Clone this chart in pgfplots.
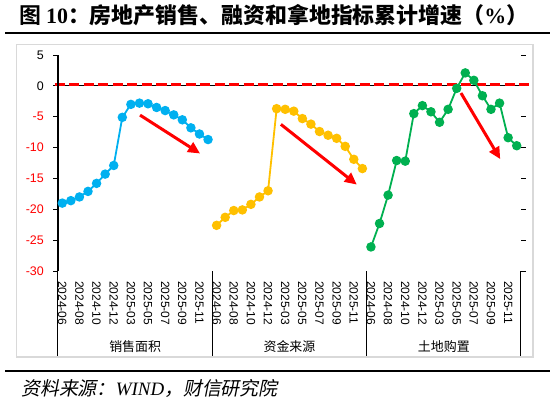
\documentclass[border=0pt]{standalone}
\usepackage{pgfplots}
\pgfplotsset{compat=1.18}
\usetikzlibrary{arrows.meta}
\usepackage{fontspec}
\setmainfont{Liberation Sans}
\newfontfamily\cjk{Noto Sans CJK SC}
\newfontfamily\cjkb{Noto Sans CJK SC Bold}
\newfontfamily\cjkit[FakeSlant=0.2]{Noto Sans CJK SC}
\newfontfamily\serifb{Liberation Serif}
\definecolor{cblue}{HTML}{00B0F0}
\definecolor{cyellow}{HTML}{FFC000}
\definecolor{cgreen}{HTML}{00B050}
\begin{document}
\begin{tikzpicture}
\path[use as bounding box] (0,0) rectangle (550bp,-404bp);
\begin{scope}[x=1bp,y=-1bp]
\draw[black!15, line width=1.5] (16.7,44.7) rectangle (533,357);
\node[anchor=base west, inner sep=0pt] at (19,23.4) {\cjkb\fontsize{22}{24}\selectfont 图 \serifb\bfseries 10\cjkb：房地产销售、融资和拿地指标累计增速（\serifb\bfseries \%\cjkb）};
\draw[black, line width=2] (5,32.8) -- (550,32.8);
\draw[black, line width=2.7] (5,371) -- (550,371);
\node[anchor=base west, inner sep=0pt] at (21,395) {\cjkit\fontsize{19}{21}\selectfont 资料来源：{\serifb\itshape WIND}，财信研究院};
\end{scope}
\begin{axis}[
  at={(58bp,-271bp)}, anchor=south west,
  scale only axis, width=463bp, height=216bp,
  xmin=-0.5, xmax=53.5, ymin=-30, ymax=5,
  axis line style={draw=none},
  clip=false,
  ytick={-30,-25,...,5},
  yticklabels={{\textcolor{red}{-30}},{\textcolor{red}{-25}},{\textcolor{red}{-20}},{\textcolor{red}{-15}},{\textcolor{red}{-10}},{\textcolor{red}{-5}},0,5},
  yticklabel style={font=\fontsize{12.5}{14}\selectfont, inner sep=0pt, xshift=-9bp},
  ytick style={black, line width=1bp},
  tick align=outside, major tick length=5bp,
  xtick={0,2,...,52},
  xticklabels={2024-06,2024-08,2024-10,2024-12,2025-03,2025-05,2025-07,2025-09,2025-11,2024-06,2024-08,2024-10,2024-12,2025-03,2025-05,2025-07,2025-09,2025-11,2024-06,2024-08,2024-10,2024-12,2025-03,2025-05,2025-07,2025-09,2025-11},
  xtick style={draw=none},
  xticklabel style={yshift=-5bp, rotate=-90, anchor=west, inner sep=0pt, font=\fontsize{12}{14}\selectfont},
  every axis plot/.append style={line width=1.8bp, mark=*, mark size=3.8bp},
]
\draw[black, line width=1bp] (axis cs:-0.5,0) -- (axis cs:53.5,0);
\draw[red, line width=3bp, dash pattern=on 10bp off 4.5bp] ([yshift=1.3bp]axis cs:-0.85,0) -- ([yshift=1.3bp]axis cs:54.8,0);
\draw[black, line width=1.3bp] (axis cs:-0.5,-30) -- (axis cs:-0.5,5);
\draw[black, line width=1bp] (axis cs:-0.5,-30) -- ([yshift=-85bp]axis cs:-0.5,-30);
\draw[black, line width=1bp] (axis cs:17.5,-30) -- ([yshift=-85bp]axis cs:17.5,-30);
\draw[black, line width=1bp] (axis cs:35.5,-30) -- ([yshift=-85bp]axis cs:35.5,-30);
\draw[black, line width=1bp] (axis cs:53.5,-30) -- ([yshift=-85bp]axis cs:53.5,-30);
\addplot[color=cblue, mark options={fill=cblue, draw=cblue}] coordinates {
(0,-19.0)(1,-18.6)(2,-18.0)(3,-17.1)(4,-15.8)(5,-14.3)(6,-12.9)(7,-5.1)(8,-3.0)
(9,-2.8)(10,-2.9)(11,-3.5)(12,-4.0)(13,-4.7)(14,-5.5)(15,-6.8)(16,-7.8)(17,-8.7)};
\addplot[color=cyellow, mark options={fill=cyellow, draw=cyellow}] coordinates {
(18,-22.6)(19,-21.3)(20,-20.2)(21,-20.1)(22,-19.2)(23,-18.0)(24,-17.0)(25,-3.7)(26,-3.8)
(27,-4.1)(28,-5.3)(29,-6.2)(30,-7.4)(31,-8.0)(32,-8.5)(33,-9.8)(34,-11.9)(35,-13.4)};
\addplot[color=cgreen, mark options={fill=cgreen, draw=cgreen}] coordinates {
(36,-26.1)(37,-22.3)(38,-17.7)(39,-12.1)(40,-12.2)(41,-4.5)(42,-3.2)(43,-4.2)(44,-5.9)
(45,-3.8)(46,-0.4)(47,2.1)(48,0.9)(49,-1.6)(50,-3.8)(51,-2.8)(52,-8.4)(53,-9.7)};
\draw[red, line width=3bp, -{Triangle[length=12bp,width=11bp]}] (axis cs:9.07,-4.74) -- (axis cs:16.07,-10.96);
\draw[red, line width=3bp, -{Triangle[length=12bp,width=11bp]}] (axis cs:25.5,-6.24) -- (axis cs:34.35,-16.0);
\draw[red, line width=3bp, -{Triangle[length=12bp,width=11bp]}] (axis cs:46.5,-1.16) -- (axis cs:51.08,-11.87);
\node[font=\cjk\fontsize{13}{15}\selectfont] at ([yshift=-76bp]axis cs:8.5,-30) {销售面积};
\node[font=\cjk\fontsize{13}{15}\selectfont] at ([yshift=-76bp]axis cs:26.5,-30) {资金来源};
\node[font=\cjk\fontsize{13}{15}\selectfont] at ([yshift=-76bp]axis cs:44.5,-30) {土地购置};
\end{axis}
\end{tikzpicture}
\end{document}
